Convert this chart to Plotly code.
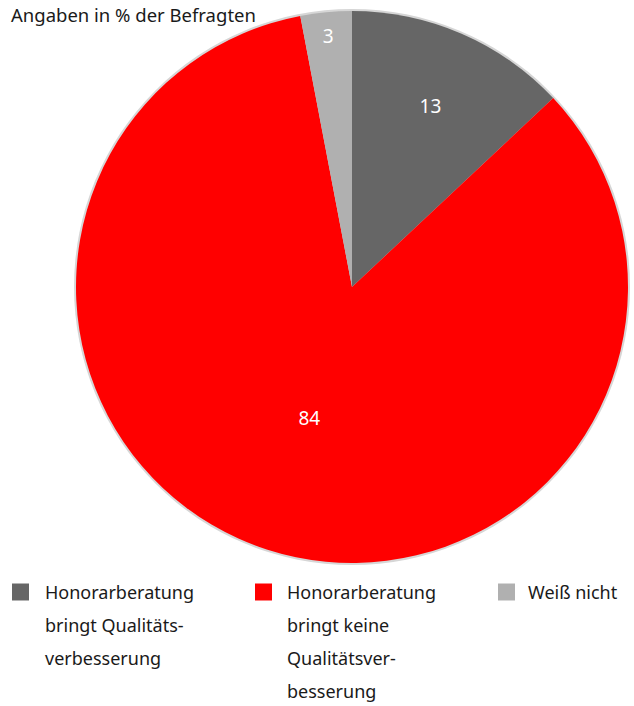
import plotly.graph_objects as go

# data
categories = ["Honorarberatung bringt Qualitätsverbesserung",
              "Honorarberatung bringt keine Qualitätsverbesserung",
              "Weiß nicht"]
values = [13, 84, 3]
colors = ["#666666", "#ff0000", "#b0b0b0"]
legend_lines = [
    ["Honorarberatung", "bringt Qualitäts-", "verbesserung"],
    ["Honorarberatung", "bringt keine", "Qualitätsver-", "besserung"],
    ["Weiß nicht"],
]

W, H = 634, 706
FONT = "Noto Sans"

# pie geometry in pixels
cx, cy, r = 352, 287, 276


def px(x):
    return x / W


def py(y):
    return 1 - y / H


fig = go.Figure()
fig.add_trace(go.Pie(
    labels=categories,
    values=values,
    sort=False,
    direction="clockwise",
    rotation=0,
    marker=dict(colors=colors, line=dict(width=0)),
    textinfo="value",
    textposition="inside",
    insidetextorientation="horizontal",
    textfont=dict(color="white", size=19, family=FONT),
    hoverinfo="label+value",
    showlegend=False,
    domain=dict(x=[px(cx - r), px(cx + r)], y=[py(cy + r), py(cy - r)]),
))

shapes = []
annotations = []

# faint outline ring around the pie
ro = r + 2
shapes.append(dict(
    type="circle", xref="paper", yref="paper", layer="below",
    x0=px(cx - ro), x1=px(cx + ro), y0=py(cy + ro), y1=py(cy - ro),
    fillcolor="#d6d6d6", line=dict(width=0),
))

# title
annotations.append(dict(
    text="Angaben in % der Befragten", xref="paper", yref="paper",
    x=px(9), y=1, xanchor="left", yanchor="top", showarrow=False,
    font=dict(family=FONT, size=18.5, color="#1a1a1a"),
))

# custom legend
item_x = [12, 255, 498]
text_x = [43, 285, 526]
line_y0 = 592
line_step = 33
sq = 17
for i, lines in enumerate(legend_lines):
    shapes.append(dict(
        type="rect", xref="paper", yref="paper",
        x0=px(item_x[i]), x1=px(item_x[i] + sq),
        y0=py(line_y0 + sq / 2), y1=py(line_y0 - sq / 2),
        fillcolor=colors[i], line=dict(width=0),
    ))
    for j, ln in enumerate(lines):
        annotations.append(dict(
            text=ln, xref="paper", yref="paper",
            x=px(text_x[i]), y=py(line_y0 + j * line_step),
            xanchor="left", yanchor="middle", showarrow=False,
            font=dict(family=FONT, size=18, color="#1a1a1a"),
        ))

fig.update_layout(
    width=W, height=H,
    margin=dict(l=0, r=0, t=0, b=0),
    paper_bgcolor="white",
    plot_bgcolor="white",
    shapes=shapes,
    annotations=annotations,
)

fig.write_html("out.html", config={"displayModeBar": False},
               post_script="document.body.style.margin='0';")
